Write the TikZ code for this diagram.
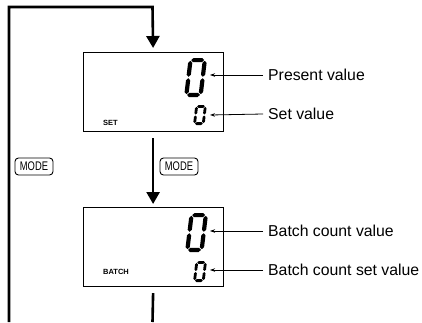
\documentclass[tikz,border=0pt]{standalone}
\usepackage{fontspec}
\usepackage{graphicx}
\setmainfont{Liberation Sans}
\usetikzlibrary{arrows.meta}
\newcommand\dighseg[3]{\fill (#1+\dG,#3) -- (#1+\dhT+\dG,#3+\dhT) -- (#2-\dhT-\dG,#3+\dhT) -- (#2-\dG,#3) -- (#2-\dhT-\dG,#3-\dhT) -- (#1+\dhT+\dG,#3-\dhT) -- cycle;}
\newcommand\digvseg[3]{\fill (#1,#2+\dG) -- (#1+\dhT,#2+\dhT+\dG) -- (#1+\dhT,#3-\dhT-\dG) -- (#1,#3-\dG) -- (#1-\dhT,#3-\dhT-\dG) -- (#1-\dhT,#2+\dhT+\dG) -- cycle;}
\newcommand\digzero[6]{%
\begin{scope}[shift={(#1,#2)}, yscale=-1, xslant=-0.12]
\pgfmathsetmacro\dW{#3}\pgfmathsetmacro\dH{#4}\pgfmathsetmacro\dhT{#5/2}\pgfmathsetmacro\dG{#6}%
\pgfmathsetmacro\dM{#4/2}%
\dighseg{\dhT}{\dW-\dhT}{\dH-\dhT}
\dighseg{\dhT}{\dW-\dhT}{\dhT}
\digvseg{\dhT}{\dhT}{\dM}
\digvseg{\dhT}{\dM}{\dH-\dhT}
\digvseg{\dW-\dhT}{\dhT}{\dM}
\digvseg{\dW-\dhT}{\dM}{\dH-\dhT}
\end{scope}}
\begin{document}
\begin{tikzpicture}[x=1pt,y=-1pt,
  flow/.style={line width=2.6pt,-{Triangle[width=13pt,length=12pt]}},
  thickline/.style={line width=2.6pt},
  lcd/.style={draw,line width=1.2pt,minimum width=140pt,minimum height=79pt,inner sep=0,anchor=north west},
  lbl/.style={font=\fontsize{15.8}{18}\selectfont,inner sep=0,anchor=west},
  tag/.style={font=\bfseries\fontsize{7.5}{9}\selectfont,inner sep=0,anchor=west},
  modebtn/.style={draw,rounded corners=3.5pt,minimum width=38pt,minimum height=17pt,inner sep=0,line width=0.9pt,font=\fontsize{12.5}{13}\selectfont},
  lblarrow/.style={line width=0.8pt,-{Stealth[length=5pt,width=3.5pt]}}]
\useasboundingbox (0,0) rectangle (422,322);
% boxes
\node[lcd] (box1) at (82.5,52) {};
\node[lcd] (box2) at (82.5,207) {};
% digits
\digzero{184}{97}{18.5}{39}{4.2}{0.7}
\digzero{193}{125}{11.5}{20}{2.8}{0.5}
\digzero{185}{252}{18.5}{39}{4.2}{0.7}
\digzero{193}{282}{11.5}{21}{2.8}{0.5}
% tags
\node[tag] (settag) at (103,123) {SET};
\node[tag] (batchtag) at (103,272) {BATCH};
% loop
\coordinate (loopStart) at (9,322);
\coordinate (topRight) at (152.5,7);
\coordinate (botEnd) at (152.5,322);
\draw[flow] (loopStart) |- (topRight) -- ([yshift=4pt]box1.north);
\draw[flow] ([yshift=-6pt]box1.south) -- ([yshift=3pt]box2.north);
\draw[thickline] ([yshift=-6pt]box2.south) -- (botEnd);
% mode buttons
\node[modebtn] (modeL) at (34,166.5) {\scalebox{0.75}[1]{MODE}};
\node[modebtn] (modeR) at (179,166.5) {\scalebox{0.75}[1]{MODE}};
% labels
\node[lbl] (pv) at (268,75) {Present value};
\node[lbl] (sv) at (268,114) {Set value};
\node[lbl] (bv) at (268,231) {Batch count value};
\node[lbl] (bsv) at (268,270) {Batch count set value};
\coordinate (pvTip) at (210,75);
\coordinate (svTip) at (210,115);
\coordinate (bvTip) at (210,231);
\coordinate (bsvTip) at (210,270);
\draw[lblarrow] ([xshift=-5pt]pv.west) -- (pvTip);
\draw[lblarrow] ([xshift=-5pt]sv.west) -- (svTip);
\draw[lblarrow] ([xshift=-5pt]bv.west) -- (bvTip);
\draw[lblarrow] ([xshift=-5pt]bsv.west) -- (bsvTip);
\end{tikzpicture}
\end{document}
